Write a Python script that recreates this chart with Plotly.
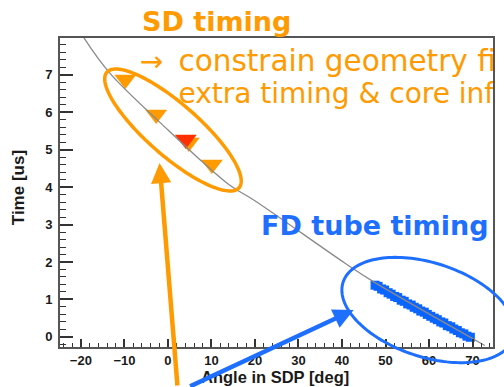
import numpy as np
import plotly.graph_objects as go

# ---- data -------------------------------------------------------------
# fitted time-vs-angle curve
fit_angle = [-19.6, -19.1, -13.4, -1.95, 14.07, 19.8, 40.8, 47.3, 70.4, 72.8]
fit_time = [8.05, 7.95, 7.05, 5.74, 4.06, 3.65, 1.96, 1.47, -0.07, -0.23]

# surface detector stations
sd_angle = [-9.8, -2.7, 4.8, 10.1]
sd_time = [6.87, 5.94, 5.19, 4.60]
sd_hot_angle = [4.1]
sd_hot_time = [5.27]

# fluorescence detector pixels
fd_angle = [47.6, 48.3, 49.1, 49.8, 50.6, 51.3, 52.1, 52.8, 53.6, 54.3,
            55.1, 55.9, 56.6, 57.4, 58.1, 58.9, 59.6, 60.4, 61.2, 61.9,
            62.7, 63.4, 64.2, 65.0, 65.7, 66.5, 67.2, 68.0, 68.7, 69.5]
fd_time = [1.38, 1.35, 1.28, 1.25, 1.18, 1.14, 1.08, 1.05, 0.98, 0.95,
           0.88, 0.85, 0.79, 0.75, 0.69, 0.66, 0.60, 0.55, 0.50, 0.46,
           0.40, 0.37, 0.30, 0.27, 0.21, 0.17, 0.11, 0.08, 0.02, -0.01]

x_ticks = [-20, -10, 0, 10, 20, 30, 40, 50, 60, 70]
y_ticks = [0, 1, 2, 3, 4, 5, 6, 7]

# ---- layout geometry --------------------------------------------------
W, H = 504, 387
ML, MR, MT, MB = 60, 9, 38, 40
PW, PH = W - ML - MR, H - MT - MB
X_RANGE = [-24.8, 74.7]
Y_RANGE = [-0.27, 7.98]

ORANGE = "#FF9A00"
BLUE = "#1F6FFF"
BAND = "#0A64FF"
RED = "#FF3000"


def px(x):
    return (x - ML) / PW


def py(y):
    return (H - MB - y) / PH


def dx(x):
    return X_RANGE[0] + px(x) * (X_RANGE[1] - X_RANGE[0])


def dy(y):
    return Y_RANGE[0] + py(y) * (Y_RANGE[1] - Y_RANGE[0])


def ellipse_path(cx, cy, a, b, deg, n=160):
    t = np.linspace(0, 2 * np.pi, n)
    th = np.radians(deg)
    xs = cx + a * np.cos(t) * np.cos(th) - b * np.sin(t) * np.sin(th)
    ys = cy + a * np.cos(t) * np.sin(th) + b * np.sin(t) * np.cos(th)
    pts = [f"{px(x):.5f},{py(y):.5f}" for x, y in zip(xs, ys)]
    return "M" + " L".join(pts) + " Z"


fig = go.Figure()

fig.add_trace(go.Scatter(
    x=sd_angle, y=sd_time, mode="markers",
    marker=dict(symbol="triangle-down", size=19, color=ORANGE, line=dict(width=0)),
    hoverinfo="skip"))
fig.add_trace(go.Scatter(
    x=sd_hot_angle, y=sd_hot_time, mode="markers",
    marker=dict(symbol="triangle-down", size=19, color=RED, line=dict(width=0)),
    hoverinfo="skip"))
fig.add_trace(go.Scatter(
    x=fd_angle, y=fd_time, mode="markers",
    marker=dict(symbol="square", size=9, color=BAND, line=dict(width=0)),
    hoverinfo="skip"))
fig.add_trace(go.Scatter(
    x=fit_angle, y=fit_time, mode="lines",
    line=dict(color="#8a8a8a", width=1.3, shape="spline"),
    hoverinfo="skip"))

# SD remarks sit inside the frame and are cut off at its right edge
big = "DejaVu Sans"
fig.add_trace(go.Scatter(
    x=[dx(140)], y=[dy(64)], mode="text", text=["\u2192"],
    textposition="middle right", cliponaxis=True,
    textfont=dict(family=big, size=28, color=ORANGE), hoverinfo="skip"))
fig.add_trace(go.Scatter(
    x=[dx(179)], y=[dy(64)], mode="text", text=["constrain geometry fit"],
    textposition="middle right", cliponaxis=True,
    textfont=dict(family=big, size=29.5, color=ORANGE), hoverinfo="skip"))
fig.add_trace(go.Scatter(
    x=[dx(179)], y=[dy(96)], mode="text", text=["extra timing &amp; core info"],
    textposition="middle right", cliponaxis=True,
    textfont=dict(family=big, size=28, color=ORANGE), hoverinfo="skip"))

axis_font = dict(family="Liberation Sans", size=13, color="#1a1a1a", weight="bold")

fig.update_xaxes(
    range=X_RANGE, tickvals=x_ticks,
    ticktext=[("\u2212" + str(-v)) if v < 0 else str(v) for v in x_ticks],
    ticks="inside", ticklen=8, tickwidth=1.5, tickcolor="#333",
    minor=dict(ticks="inside", ticklen=4, dtick=2, tickwidth=1.2, tickcolor="#333"),
    showline=True, linecolor="#555", linewidth=2, mirror=True,
    showgrid=False, zeroline=False, tickfont=axis_font, ticklabelstandoff=0)
fig.update_yaxes(
    range=Y_RANGE, tickvals=y_ticks,
    ticks="inside", ticklen=13, tickwidth=1.5, tickcolor="#333",
    minor=dict(ticks="inside", ticklen=6, dtick=0.2, tickwidth=1.2, tickcolor="#333"),
    showline=True, linecolor="#555", linewidth=2, mirror=True,
    showgrid=False, zeroline=False, tickfont=axis_font, ticklabelstandoff=3)

shapes = [
    dict(type="path", xref="paper", yref="paper", layer="above",
         path=ellipse_path(173.5, 130, 88, 26, 41),
         line=dict(color=ORANGE, width=3.5)),
    dict(type="path", xref="paper", yref="paper", layer="above",
         path=ellipse_path(430, 310, 90, 47, 18),
         line=dict(color=BLUE, width=3)),
]

title_font = dict(family="Liberation Sans", size=16.5, color="#1a1a1a", weight="bold")

annotations = [
    dict(xref="paper", yref="paper", x=px(276), y=py(377), text="Angle in SDP [deg]",
         showarrow=False, font=title_font, xanchor="center", yanchor="middle"),
    dict(xref="paper", yref="paper", x=px(18), y=py(188), text="Time [us]", textangle=-90,
         showarrow=False, font=dict(title_font, size=17), xanchor="center", yanchor="middle"),
    dict(xref="paper", yref="paper", x=px(140), y=py(22), text="SD timing",
         showarrow=False, font=dict(family=big, size=27, color=ORANGE, weight="bold"),
         xanchor="left", yanchor="middle"),
    dict(xref="paper", yref="paper", x=px(260), y=py(225), text="FD tube timing",
         showarrow=False, font=dict(family=big, size=27, color=BLUE, weight="bold"),
         xanchor="left", yanchor="middle"),
    # pointer arrows
    dict(xref="paper", yref="paper", x=px(160), y=py(163), ax=18, ay=229, text="",
         showarrow=True, arrowhead=2, arrowsize=0.9, arrowwidth=4.5, arrowcolor=ORANGE,
         standoff=0, startstandoff=0),
    dict(xref="paper", yref="paper", x=px(355), y=py(310), ax=-165, ay=84, text="",
         showarrow=True, arrowhead=2, arrowsize=0.9, arrowwidth=4.5, arrowcolor=BLUE,
         standoff=0, startstandoff=0),
]

fig.update_layout(
    width=W, height=H, margin=dict(l=ML, r=MR, t=MT, b=MB, pad=0),
    paper_bgcolor="white", plot_bgcolor="white", showlegend=False,
    shapes=shapes, annotations=annotations)

fig.write_html("out.html")
